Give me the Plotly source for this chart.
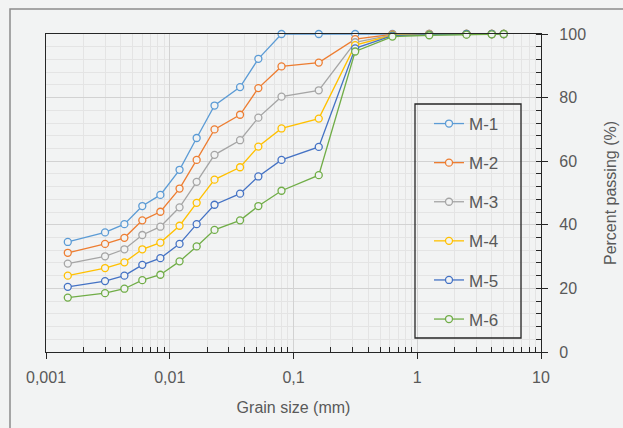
import plotly.graph_objects as go

sizes = [0.0015, 0.003, 0.0043, 0.006, 0.0084, 0.012, 0.0165, 0.023, 0.037,
         0.052, 0.08, 0.16, 0.315, 0.63, 1.25, 2.5, 4, 5]
m1 = [34.6, 37.6, 40.2, 45.9, 49.4, 57.3, 67.3, 77.5, 83.3, 92.2, 100, 100, 100, 100, 100, 100, 100, 100]
m2 = [31.2, 34.0, 35.9, 41.4, 44.1, 51.4, 60.4, 70.0, 74.6, 83.0, 89.8, 91.0, 98.4, 99.9, 100, 100, 100, 100]
m3 = [27.8, 30.1, 32.3, 36.8, 39.4, 45.5, 53.5, 62.0, 66.6, 73.7, 80.3, 82.3, 97.4, 99.7, 100, 100, 100, 100]
m4 = [24.0, 26.4, 28.2, 32.3, 34.4, 39.7, 46.9, 54.2, 58.1, 64.6, 70.3, 73.4, 96.5, 99.6, 99.9, 100, 100, 100]
m5 = [20.5, 22.3, 24.0, 27.4, 29.5, 34.0, 40.2, 46.3, 49.8, 55.2, 60.4, 64.5, 95.5, 99.5, 99.8, 100, 100, 100]
m6 = [17.1, 18.5, 19.9, 22.6, 24.3, 28.5, 33.2, 38.4, 41.4, 45.9, 50.7, 55.6, 94.5, 99.2, 99.6, 99.8, 99.9, 100]

names = ["M-1", "M-2", "M-3", "M-4", "M-5", "M-6"]
series = [m1, m2, m3, m4, m5, m6]
colors = ["#5B9BD5", "#ED7D31", "#A5A5A5", "#FFC000", "#4472C4", "#70AD47"]

x_tickvals = [0.001, 0.01, 0.1, 1, 10]
x_ticktext = ["0,001", "0,01", "0,1", "1", "10"]
x_minor = [m * 10 ** e for e in range(-3, 1) for m in range(2, 10)]

BG = "#F2F3F3"
W, H = 623, 428
ML, MR, MT, MB = 46, 82, 34, 76
PW, PH = W - ML - MR, H - MT - MB

fig = go.Figure()
for n, s, c in zip(names, series, colors):
    fig.add_trace(go.Scatter(
        x=sizes, y=s, name=n, legendgroup=n, mode="lines+markers",
        line=dict(color=c, width=1.3),
        marker=dict(symbol="circle", size=7, color=BG, line=dict(color=c, width=1.3)),
        cliponaxis=False,
    ))

FAM = "Arial, Liberation Sans, sans-serif"
font = dict(family=FAM, size=16, color="#595959")

def px_x(p):
    return (p - ML) / PW

def px_y(p):
    return (H - MB - p) / PH

fig.update_layout(
    width=W, height=H,
    margin=dict(l=ML, r=MR, t=MT, b=MB, autoexpand=False),
    paper_bgcolor=BG, plot_bgcolor=BG,
    font=font,
    showlegend=True,
    legend=dict(x=px_x(429), y=px_y(106), xanchor="left", yanchor="top",
                bgcolor="rgba(0,0,0,0)", borderwidth=0,
                font=dict(family=FAM, size=17, color="#595959"),
                tracegroupgap=14, itemwidth=30),
    xaxis=dict(
        type="log", range=[-3, 1], automargin=False,
        tickmode="array", tickvals=x_tickvals, ticktext=x_ticktext,
        showline=True, linecolor="#262626", linewidth=1.3, mirror=True,
        ticks="outside", ticklen=6, tickcolor="#262626", tickwidth=1,
        ticklabelstandoff=5,
        showgrid=True, gridcolor="#D2D2D2", gridwidth=1,
        minor=dict(tickmode="array", tickvals=x_minor, ticks="inside", ticklen=5,
                   tickcolor="#262626", showgrid=True, gridcolor="#E4E4E4", gridwidth=1),
        title=dict(text="Grain size (mm)", standoff=16, font=font),
        zeroline=False,
    ),
    yaxis=dict(
        range=[0, 100], side="right", automargin=False,
        tickmode="linear", tick0=0, dtick=20,
        showline=True, linecolor="#262626", linewidth=1.3, mirror=True,
        ticks="outside", ticklen=6, tickcolor="#262626", tickwidth=1,
        ticklabelstandoff=8,
        showgrid=True, gridcolor="#D2D2D2", gridwidth=1,
        minor=dict(tickmode="linear", tick0=0, dtick=4, ticks="inside", ticklen=5,
                   tickcolor="#262626", showgrid=True, gridcolor="#E4E4E4", gridwidth=1),
        title=dict(text="Percent passing (%)", standoff=19, font=font),
        zeroline=False,
    ),
)

# legend box
fig.add_shape(type="rect", xref="paper", yref="paper",
              x0=px_x(415), x1=px_x(521), y0=px_y(338), y1=px_y(104),
              line=dict(color="#262626", width=1.3), fillcolor="rgba(0,0,0,0)", layer="above")
# outer chart frame (left and top edges)
fig.add_shape(type="path", xref="paper", yref="paper",
              path=f"M {px_x(10)} {px_y(H)} L {px_x(10)} {px_y(9)} L {px_x(W)} {px_y(9)}",
              line=dict(color="#8C8C8C", width=1.5), layer="above")

fig.write_html("out.html")
